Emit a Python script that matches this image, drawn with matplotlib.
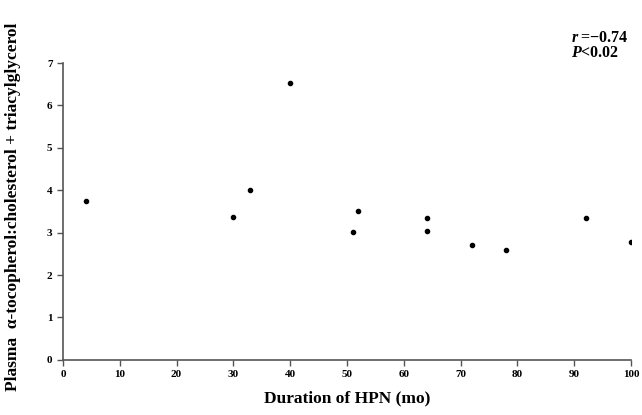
import matplotlib
matplotlib.use('Agg')
import matplotlib.pyplot as plt

# duration of HPN (months) and plasma ratio values
duration = [4, 30, 33, 40, 51, 52, 64, 64, 72, 78, 92, 100]
ratio = [3.74, 3.38, 4.0, 6.54, 3.01, 3.52, 3.35, 3.05, 2.72, 2.58, 3.34, 2.78]

plt.rcParams['font.family'] = ['Liberation Serif', 'DejaVu Serif']
plt.rcParams['font.weight'] = 'bold'
plt.rcParams['mathtext.fontset'] = 'custom'
plt.rcParams['mathtext.it'] = 'Liberation Serif:italic:bold'
plt.rcParams['mathtext.rm'] = 'Liberation Serif:bold'

fig = plt.figure(figsize=(6.42, 4.15), dpi=100)
ax = fig.add_axes([0.098, 0.133, 0.885, 0.715])

ax.scatter(duration, ratio, s=9, color='black', zorder=3)

ax.set_xlim(0, 100)
ax.set_ylim(0, 7)
ax.set_xticks(range(0, 101, 10))
ax.set_yticks(range(0, 8))

for side in ['top', 'right']:
    ax.spines[side].set_visible(False)
for side in ['left', 'bottom']:
    ax.spines[side].set_color('#555555')
    ax.spines[side].set_linewidth(1.2)

ax.tick_params(axis='both', labelsize=8, color='#555555', length=4, width=1)
for lbl in ax.get_xticklabels() + ax.get_yticklabels():
    lbl.set_fontweight('bold')

ax.set_xlabel('Duration of HPN (mo)', fontsize=12.5, fontweight='bold', labelpad=8)
ax.set_ylabel('Plasma  \u03b1-tocopherol:cholesterol + triacylglycerol',
              fontsize=12.5, fontweight='bold')
ax.yaxis.set_label_coords(-0.074, 0.515)

fig.text(0.889, 0.908, '$r$\u2009=\u22120.74', ha='left', va='center',
         fontsize=11.5, fontweight='bold')
fig.text(0.889, 0.872, '$P$<0.02', ha='left', va='center',
         fontsize=11.5, fontweight='bold')

fig.savefig('out.png', dpi=100)
